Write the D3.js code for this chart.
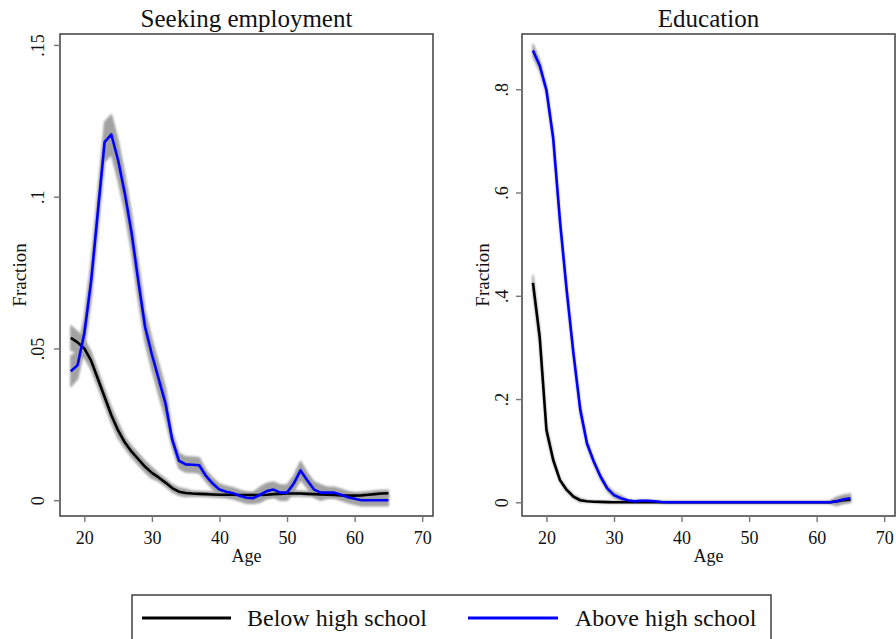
<!DOCTYPE html>
<html>
<head>
<meta charset="utf-8">
<script src="https://cdn.jsdelivr.net/npm/d3@7"></script>
<style>
  html, body { margin: 0; padding: 0; background: #fff; }
  svg { display: block; }
  text { font-family: "Liberation Serif", "Times New Roman", serif; fill: #111; }
</style>
</head>
<body>
<svg id="chart" width="896" height="639"></svg>
<script>
// Age grid shared by every series
const ages = [18,19,20,21,22,23,24,25,26,27,28,29,30,31,32,33,34,35,36,37,38,39,40,41,
              42,43,44,45,46,47,48,49,50,51,52,53,54,55,56,57,58,59,60,61,62,63,64,65];

// Seeking employment: share by age
const seekBelow = [0.0535,0.052,0.050,0.046,0.040,0.034,0.028,0.023,0.019,0.016,0.0135,0.011,
                   0.009,0.0075,0.0058,0.004,0.0028,0.0024,0.0022,0.0021,0.002,0.0019,0.0018,0.0018,
                   0.0018,0.0017,0.0017,0.0017,0.0017,0.0018,0.002,0.0021,0.0022,0.0022,0.0022,0.0021,
                   0.002,0.0019,0.0018,0.0017,0.0016,0.0015,0.0015,0.0016,0.0018,0.002,0.0022,0.0023];
const seekBelowCI = [0.004,0.0035,0.003,0.0028,0.0025,0.0025,0.0025,0.0025,0.0018,0.0018,0.0018,0.0018,
                     0.0018,0.0012,0.0012,0.0012,0.0012,0.0012,0.0008,0.0008,0.0008,0.0008,0.0008,0.0008,
                     0.0008,0.0008,0.0008,0.0008,0.0008,0.0008,0.0008,0.0008,0.0008,0.0008,0.0008,0.0008,
                     0.0008,0.0008,0.0008,0.0008,0.0008,0.0008,0.0008,0.001,0.001,0.001,0.001,0.001];
const seekAbove = [0.0425,0.0445,0.055,0.072,0.095,0.118,0.1205,0.112,0.101,0.088,0.072,0.057,
                   0.048,0.040,0.032,0.020,0.013,0.0118,0.0117,0.0115,0.008,0.0055,0.0035,0.0028,
                   0.0023,0.0015,0.0008,0.0007,0.0018,0.003,0.0035,0.0025,0.0025,0.0055,0.0098,0.0065,
                   0.0035,0.0025,0.0025,0.0025,0.0018,0.001,0.0005,0.0,0.0,0.0,0.0,0.0];
const seekAboveCI = [0.005,0.0045,0.005,0.006,0.006,0.0065,0.0065,0.0065,0.006,0.006,0.006,0.005,
                     0.005,0.005,0.005,0.0025,0.0025,0.0025,0.0025,0.0025,0.0018,0.0018,0.0018,0.0018,
                     0.0018,0.0018,0.0018,0.0018,0.0025,0.0025,0.0025,0.0025,0.0025,0.0025,0.003,0.0025,
                     0.0025,0.0025,0.0018,0.0018,0.0018,0.0018,0.0018,0.0018,0.0018,0.0018,0.0018,0.0018];

// Education: share by age
const eduBelow = [0.425,0.32,0.14,0.082,0.043,0.024,0.011,0.004,0.002,0.001,0.0008,0.0004,
                  0.0002,0,0,0,0,0,0,0,0,0,0,0,
                  0,0,0,0,0,0,0,0,0,0,0,0,
                  0,0,0,0,0,0,0,0,0,0.002,0.004,0.005];
const eduBelowCI = [0.015,0.012,0.008,0.005,0.003,0.003,0.003,0.003,0.001,0.001,0.001,0.001,
                    0.001,0.001,0.001,0.001,0.001,0.001,0.001,0.001,0.001,0.001,0.001,0.001,
                    0.001,0.001,0.001,0.001,0.001,0.001,0.001,0.001,0.001,0.001,0.001,0.001,
                    0.001,0.001,0.001,0.001,0.001,0.001,0.001,0.001,0.001,0.004,0.004,0.004];
const eduAbove = [0.875,0.846,0.798,0.705,0.545,0.41,0.288,0.18,0.114,0.079,0.05,0.027,
                  0.014,0.008,0.004,0.002,0.003,0.003,0.002,0.0005,0,0,0,0,
                  0,0,0,0,0,0,0,0,0,0,0,0,
                  0,0,0,0,0,0,0,0,0,0.002,0.006,0.008];
const eduAboveCI = [0.012,0.01,0.008,0.008,0.008,0.008,0.008,0.008,0.005,0.005,0.005,0.005,
                    0.005,0.005,0.001,0.001,0.001,0.001,0.001,0.001,0.001,0.001,0.001,0.001,
                    0.001,0.001,0.001,0.001,0.001,0.001,0.001,0.001,0.001,0.001,0.001,0.001,
                    0.001,0.001,0.001,0.001,0.001,0.001,0.001,0.001,0.002,0.008,0.008,0.008];

const xTicks = [20, 30, 40, 50, 60, 70];
const seekTicks = [0, 0.05, 0.1, 0.15];
const seekTickLabels = ["0", ".05", ".1", ".15"];
const eduTicks = [0, 0.2, 0.4, 0.6, 0.8];
const eduTickLabels = ["0", ".2", ".4", ".6", ".8"];

const groups = ["Below high school", "Above high school"];
const groupColors = ["#000000", "#0000ff"];

const svg = d3.select("#chart");

// slight softening for the confidence bands
const defs = svg.append("defs");
defs.append("filter").attr("id", "soft").attr("x", "-5%").attr("y", "-5%").attr("width", "110%").attr("height", "110%")
  .append("feGaussianBlur").attr("stdDeviation", 0.8);

function panel(opts) {
  const { left, right, top, bottom, xDomain, yDomain, title, yTicks, yTickLabels, series, tickLabelX } = opts;
  const x = d3.scaleLinear().domain(xDomain).range([left, right]);
  const y = d3.scaleLinear().domain(yDomain).range([bottom, top]);
  const g = svg.append("g");

  // confidence bands
  const area = d3.area()
    .x(d => x(d.age))
    .y0(d => y(d.v - d.ci))
    .y1(d => y(d.v + d.ci));
  const line = d3.line().x(d => x(d.age)).y(d => y(d.v));

  const rows = series.map(s => ages.map((a, i) => ({ age: a, v: s.values[i], ci: s.ci[i] })));

  rows.forEach(r => {
    g.append("path").attr("d", area(r)).attr("fill", "#a2a2a2").attr("stroke", "#a2a2a2")
      .attr("stroke-width", 1.5).attr("stroke-linejoin", "round").attr("filter", "url(#soft)");
  });
  rows.forEach((r, i) => {
    g.append("path").attr("d", line(r)).attr("fill", "none")
      .attr("stroke", series[i].color).attr("stroke-width", 2.6).attr("stroke-linejoin", "round");
  });

  // plot frame
  g.append("rect").attr("x", left).attr("y", top).attr("width", right - left).attr("height", bottom - top)
    .attr("fill", "none").attr("stroke", "#4a4a4a").attr("stroke-width", 1.6);

  // x axis
  const xAxis = d3.axisBottom(x).tickValues(xTicks).tickSize(6).tickPadding(6);
  const xa = g.append("g").attr("transform", `translate(0,${bottom})`).call(xAxis);
  xa.select(".domain").remove();
  xa.selectAll(".tick line").attr("stroke", "#777").attr("stroke-width", 1.4);
  xa.selectAll(".tick text").attr("font-family", "Liberation Serif, serif").attr("font-size", 18)
    .attr("fill", "#111").attr("dy", "0.75em").attr("y", 14);

  // y axis
  const yAxis = d3.axisLeft(y).tickValues(yTicks).tickFormat((d, i) => yTickLabels[i]).tickSize(6);
  const ya = g.append("g").attr("transform", `translate(${left},0)`).call(yAxis);
  ya.select(".domain").remove();
  ya.selectAll(".tick line").attr("stroke", "#777").attr("stroke-width", 1.4);
  ya.selectAll(".tick text").attr("font-family", "Liberation Serif, serif").attr("font-size", 18)
    .attr("fill", "#111").attr("x", null).attr("dy", null)
    .attr("text-anchor", "middle")
    .attr("transform", `translate(${tickLabelX - left},0) rotate(-90) translate(0,6)`);

  // titles
  g.append("text").attr("x", (left + right) / 2).attr("y", 27).attr("text-anchor", "middle")
    .attr("font-size", 25).text(title);
  g.append("text").attr("x", (left + right) / 2).attr("y", 562).attr("text-anchor", "middle")
    .attr("font-size", 18).text("Age");
  g.append("text").attr("transform", `translate(${opts.yLabelX},${(top + bottom) / 2}) rotate(-90)`)
    .attr("text-anchor", "middle").attr("dy", "0.35em").attr("font-size", 19).text("Fraction");
}

panel({
  left: 60, right: 433, top: 34, bottom: 516,
  xDomain: [16.4, 71.6], yDomain: [-0.0052, 0.1536],
  title: "Seeking employment", yTicks: seekTicks, yTickLabels: seekTickLabels,
  tickLabelX: 38, yLabelX: 19,
  series: [
    { values: seekBelow, ci: seekBelowCI, color: groupColors[0] },
    { values: seekAbove, ci: seekAboveCI, color: groupColors[1] }
  ]
});

panel({
  left: 522, right: 895, top: 34, bottom: 516,
  xDomain: [16.38, 71.6], yDomain: [-0.0265, 0.907],
  title: "Education", yTicks: eduTicks, yTickLabels: eduTickLabels,
  tickLabelX: 502, yLabelX: 482,
  series: [
    { values: eduBelow, ci: eduBelowCI, color: groupColors[0] },
    { values: eduAbove, ci: eduAboveCI, color: groupColors[1] }
  ]
});

// legend
const lg = svg.append("g");
lg.append("rect").attr("x", 132).attr("y", 595).attr("width", 639).attr("height", 60)
  .attr("fill", "#fff").attr("stroke", "#333").attr("stroke-width", 1.4);
const legendItems = [
  { x1: 142, x2: 231, tx: 247 },
  { x1: 468, x2: 558, tx: 575 }
];
groups.forEach((name, i) => {
  const it = legendItems[i];
  lg.append("line").attr("x1", it.x1).attr("x2", it.x2).attr("y1", 618).attr("y2", 618)
    .attr("stroke", groupColors[i]).attr("stroke-width", 2.8);
  lg.append("text").attr("x", it.tx).attr("y", 626).attr("font-size", 24).text(name);
});
</script>
</body>
</html>
